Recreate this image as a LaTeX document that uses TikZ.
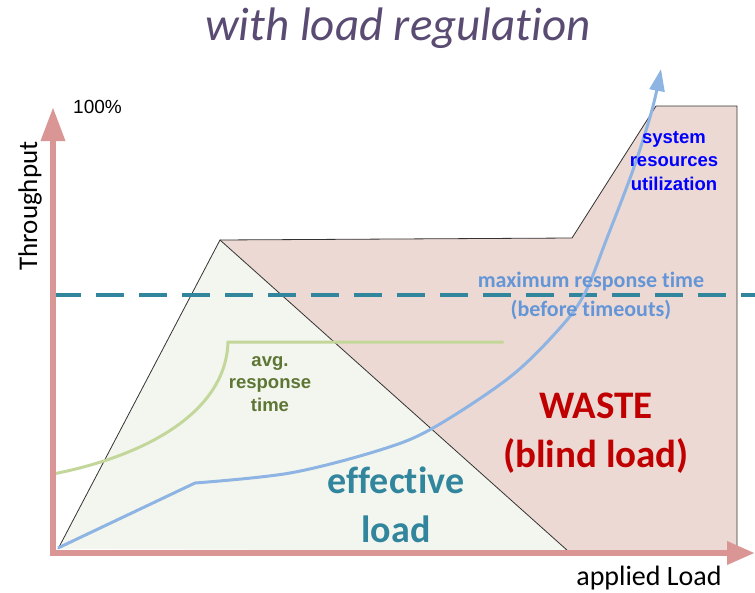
\documentclass[tikz,border=0pt]{standalone}
\usepackage{fontspec}
\setmainfont[Ligatures={NoCommon}]{Carlito}
\newfontfamily\arialfont{Liberation Sans}
\usetikzlibrary{arrows.meta}

\definecolor{axiscol}{RGB}{218,150,148}
\definecolor{wastefill}{RGB}{237,217,212}
\definecolor{effill}{RGB}{243,246,238}
\definecolor{tealcol}{RGB}{49,133,156}
\definecolor{avgline}{RGB}{196,215,155}
\definecolor{avgtext}{RGB}{94,118,52}
\definecolor{utilline}{RGB}{141,180,226}
\definecolor{maxtext}{RGB}{100,150,215}
\definecolor{titlecol}{RGB}{90,75,115}
\definecolor{wastetext}{RGB}{192,0,0}

\tikzset{
  outline/.style={draw=black!80, line width=0.8pt},
  curveline/.style={line width=3pt, line cap=round},
  lbl/.style={inner sep=0pt, align=center},
}

\begin{document}
\begin{tikzpicture}[x=1pt, y=-1pt]
\useasboundingbox (0,0) rectangle (755,592);

% overload region (waste)
\fill[wastefill] (220,240) -- (572,238) -- (656,106) -- (737,106) -- (737,553) -- (568,553) -- cycle;
\draw[outline] (220,240) -- (572,238) -- (656,106) -- (737,106) -- (737,553);

% effective load triangle
\fill[effill] (58,549) -- (220,240) -- (568,551) -- cycle;
\draw[outline] (58,549) -- (220,240) -- (568,551);

% maximum response time threshold
\draw[tealcol, line width=3.5pt, dash pattern=on 28pt off 15pt] (53,295) -- (755,295);

% average response time
\draw[avgline, curveline] (53,474) .. controls (150,455) and (226,410) .. (228,342) -- (503,342);

% system resources utilization
\draw[utilline, line width=3pt, line join=round, -{Triangle[width=15pt,length=22pt]}]
  (58,548) -- (195,483)
  plot[smooth, tension=0.55] coordinates {(195,483) (290,473) (380,450) (433,428) (510,377) (560,328) (585,293) (607,238) (633,170) (652,110) (661,69)};

% axes
\draw[axiscol, line width=6.5pt, line join=miter,
  {Triangle[width=23pt,length=34pt]}-{Triangle[width=22pt,length=28pt]}]
  (53,107) -- (53,553) -- (755,553);

% texts
\node[lbl, text=titlecol, anchor=base, font=\fontsize{47}{47}\selectfont\itshape] (title) at (398,40)
  {with load regulation};
\node[lbl, anchor=base west, font=\arialfont\fontsize{19}{19}\selectfont] (pct) at (73,113)
  {100\%};
\node[lbl, rotate=90, anchor=base, font=\fontsize{27}{27}\selectfont] (ylab) at (37,206)
  {Throughput};
\node[lbl, anchor=base, font=\fontsize{28}{28}\selectfont] (xlab) at (649,585)
  {applied Load};
\node[lbl, text=blue, font=\arialfont\bfseries\fontsize{18.5}{23.5}\selectfont] (util) at (674,161)
  {system\\resources\\utilization};
\node[lbl, text=maxtext, anchor=base, font=\bfseries\fontsize{22}{22}\selectfont] (maxrt) at (591,287)
  {maximum response time};
\node[lbl, text=maxtext, anchor=base, font=\bfseries\fontsize{22}{22}\selectfont] (maxrt2) at (591,316)
  {(before timeouts)};
\node[lbl, text=avgtext, font=\arialfont\bfseries\fontsize{18.5}{22.5}\selectfont] (avg) at (270,384)
  {avg.\\response\\time};
\node[lbl, text=tealcol, anchor=base, font=\bfseries\fontsize{38}{38}\selectfont] (eff1) at (396,493)
  {effective};
\node[lbl, text=tealcol, anchor=base, font=\bfseries\fontsize{38}{38}\selectfont] (eff2) at (396,542)
  {load};
\node[lbl, text=wastetext, anchor=base, font=\bfseries\fontsize{39}{39}\selectfont] (waste1) at (596,418)
  {WASTE};
\node[lbl, text=wastetext, anchor=base, font=\bfseries\fontsize{39}{39}\selectfont] (waste2) at (596,467)
  {(blind load)};
\end{tikzpicture}
\end{document}
